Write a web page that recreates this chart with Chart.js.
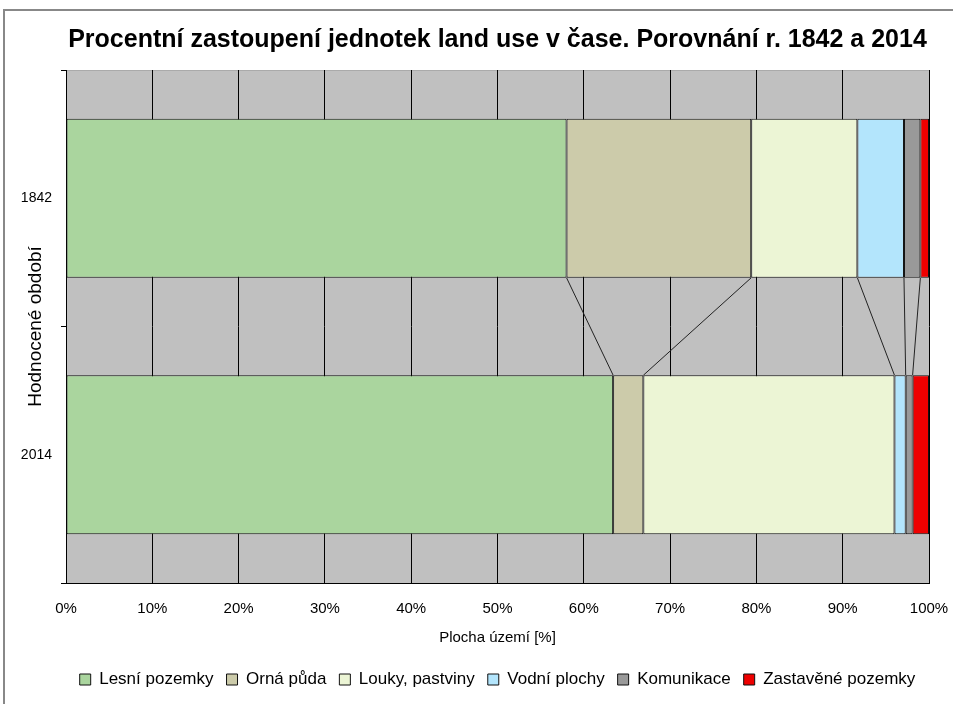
<!DOCTYPE html>
<html>
<head>
<meta charset="utf-8">
<script src="https://cdn.jsdelivr.net/npm/chart.js@4"></script>
<style>
  html, body { margin: 0; padding: 0; background: #fff; }
  #wrap { position: relative; width: 953px; height: 704px; }
</style>
</head>
<body>
<div id="wrap"><canvas id="graf" width="953" height="704"></canvas></div>
<script>
// Hodnocená období
const obdobi = ['1842', '2014'];

// Podíl jednotek land use [%] – pořadí odpovídá obdobi
const lesniPozemky = [58.0, 63.4];
const ornaPuda = [21.4, 3.5];
const loukyPastviny = [12.3, 29.1];
const vodniPlochy = [5.4, 1.3];
const komunikace = [1.9, 0.8];
const zastavenePozemky = [1.0, 1.9];

const nazvy = ['Lesní pozemky', 'Orná půda', 'Louky, pastviny', 'Vodní plochy', 'Komunikace', 'Zastavěné pozemky'];
const barvy = ['#aad59e', '#cccbaa', '#ecf5d5', '#b3e5fc', '#999999', '#ee0000'];
const hodnoty = [lesniPozemky, ornaPuda, loukyPastviny, vodniPlochy, komunikace, zastavenePozemky];

const osaX = [0, 10, 20, 30, 40, 50, 60, 70, 80, 90, 100];

// šedé pozadí plochy grafu a rámeček kolem celého obrázku
const pozadi = {
    id: 'pozadi',
    beforeDraw(chart) {
        const { ctx, chartArea: a } = chart;
        ctx.save();
        ctx.fillStyle = '#c0c0c0';
        ctx.fillRect(a.left, a.top, a.right - a.left, a.bottom - a.top);
        ctx.strokeStyle = '#888';
        ctx.lineWidth = 2;
        ctx.strokeRect(4, 10, 1000, 800);
        ctx.strokeStyle = '#aaa';
        ctx.lineWidth = 1;
        ctx.beginPath();
        ctx.moveTo(a.left, a.top + 0.5);
        ctx.lineTo(a.right, a.top + 0.5);
        ctx.stroke();
        ctx.restore();
    }
};

// spojnice mezi sloupci (jako v Excelu)
const spojnice = {
    id: 'spojnice',
    afterDatasetsDraw(chart) {
        const ctx = chart.ctx;
        ctx.save();
        ctx.strokeStyle = '#222';
        ctx.lineWidth = 1;
        for (let i = 0; i < hodnoty.length - 1; i++) {
            const meta = chart.getDatasetMeta(i);
            const a = meta.data[0], b = meta.data[1];
            ctx.beginPath();
            ctx.moveTo(a.x, a.y + a.height / 2);
            ctx.lineTo(b.x, b.y - b.height / 2);
            ctx.stroke();
        }
        ctx.restore();
    }
};

const datasets = hodnoty.map((h, i) => ({
    label: nazvy[i],
    data: h,
    backgroundColor: barvy[i],
    borderColor: '#111',
    borderWidth: 1,
    borderSkipped: false,
    categoryPercentage: 0.62,
    barPercentage: 1
}));

new Chart(document.getElementById('graf'), {
    type: 'bar',
    data: { labels: obdobi, datasets: datasets },
    options: {
        indexAxis: 'y',
        responsive: false,
        animation: false,
        layout: { padding: { left: 10, right: 24, top: 0, bottom: 6 } },
        plugins: {
            title: {
                display: true,
                fullSize: false,
                text: 'Procentní zastoupení jednotek land use v čase. Porovnání r. 1842 a 2014',
                color: '#000',
                font: { family: 'Liberation Sans', size: 25, weight: 'bold' },
                padding: { top: 25, bottom: 15 }
            },
            legend: {
                position: 'bottom',
                fullSize: false,
                labels: {
                    color: '#000',
                    boxWidth: 11,
                    boxHeight: 11,
                    padding: 13,
                    font: { family: 'Liberation Sans', size: 17 }
                }
            },
            tooltip: { enabled: false }
        },
        scales: {
            x: {
                stacked: true,
                min: 0,
                max: 100,
                afterBuildTicks(s) { s.ticks = osaX.map(v => ({ value: v })); },
                afterFit(s) { s.height = 75; s.paddingLeft = 0; s.paddingRight = 0; },
                ticks: {
                    color: '#000',
                    padding: 17,
                    font: { family: 'Liberation Sans', size: 15 },
                    callback: v => v + '%'
                },
                grid: { color: '#000', lineWidth: 1, drawTicks: false },
                border: { color: '#000', width: 1 },
                title: {
                    display: true,
                    text: 'Plocha území [%]',
                    color: '#000',
                    font: { family: 'Liberation Sans', size: 15 },
                    padding: { top: 0, bottom: 11 }
                }
            },
            y: {
                stacked: true,
                afterFit(s) { s.width = 56; },
                ticks: {
                    color: '#000',
                    padding: 9,
                    font: { family: 'Liberation Sans', size: 14 }
                },
                grid: { offset: true, drawOnChartArea: false, color: '#000', tickLength: 5 },
                border: { color: '#000', width: 1 },
                title: {
                    display: true,
                    text: 'Hodnocené období',
                    color: '#000',
                    font: { family: 'Liberation Sans', size: 19 },
                    padding: { top: 14, bottom: 0 }
                }
            }
        }
    },
    plugins: [pozadi, spojnice]
});
</script>
</body>
</html>
